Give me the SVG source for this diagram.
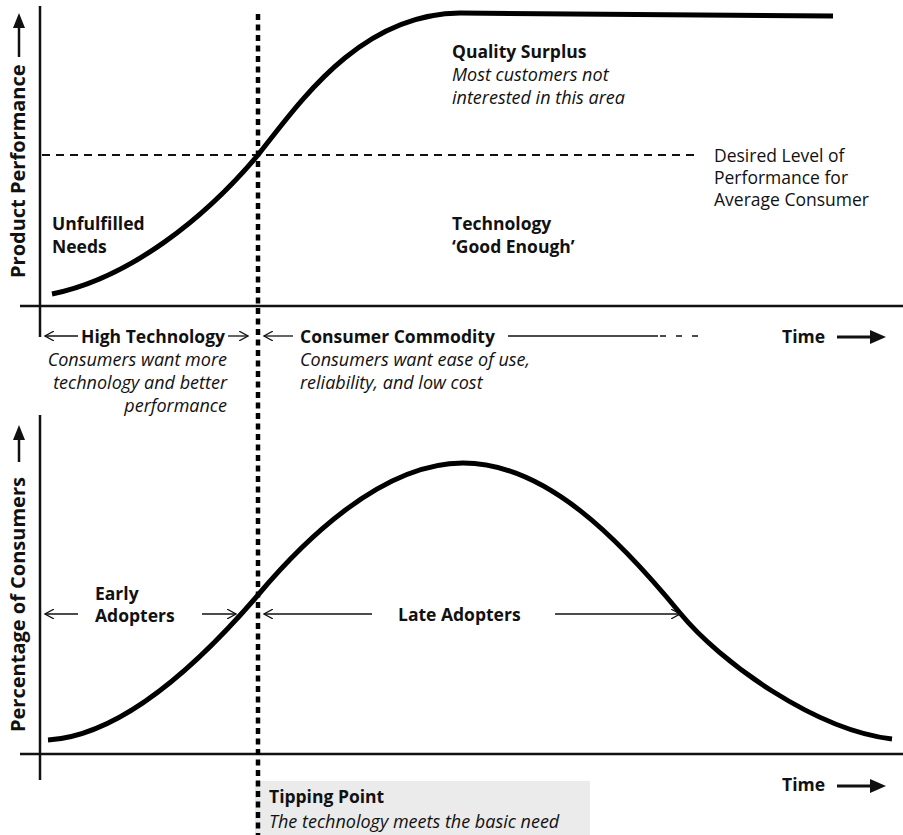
<svg xmlns="http://www.w3.org/2000/svg" width="903" height="835" viewBox="0 0 903 835">
<style>
text{font-family:"Open Sans","Liberation Sans",sans-serif;fill:#111;}
.b{font-weight:700;font-size:17.5px;}
.r{font-size:17.5px;}
.i{font-style:italic;font-size:18px;}
.ax{font-weight:700;font-size:20px;}
.axis{stroke:#111;stroke-width:2.5;fill:none;}
.curve{stroke:#000;stroke-width:5;fill:none;stroke-linecap:butt;}
.thin{stroke:#111;stroke-width:1.3;fill:none;}
</style>
<defs>
<marker id="open" viewBox="0 0 10 10" refX="9" refY="5" markerWidth="10" markerHeight="10" markerUnits="userSpaceOnUse" orient="auto-start-reverse">
<path d="M0,0 L9,5 L0,10" fill="none" stroke="#111" stroke-width="1.2"/>
</marker>
</defs>
<g id="tipping-box"><rect x="255" y="781" width="335" height="54" fill="#ebebeb"/></g>
<g id="axes">
<line class="axis" x1="40" y1="6" x2="40" y2="337"/>
<line class="axis" x1="20" y1="306" x2="903" y2="306"/>
<line class="axis" x1="40" y1="415" x2="40" y2="780"/>
<line class="axis" x1="20" y1="754" x2="903" y2="754"/>
</g>
<g id="axis-labels">
<text class="ax" transform="translate(25,278) rotate(-90)">Product Performance</text>
<line x1="19" y1="57" x2="19" y2="26" stroke="#111" stroke-width="2.5"/>
<path d="M19,13 L25,28 L13,28 Z" fill="#111"/>
<text class="ax" transform="translate(25,732) rotate(-90)">Percentage of Consumers</text>
<line x1="19" y1="462" x2="19" y2="438" stroke="#111" stroke-width="2.5"/>
<path d="M19,425 L25,440 L13,440 Z" fill="#111"/>
<text class="b" x="782" y="343">Time</text>
<line x1="837" y1="337" x2="872" y2="337" stroke="#111" stroke-width="3"/>
<path d="M886,337 L870,330 L870,344 Z" fill="#111"/>
<text class="b" x="782" y="791">Time</text>
<line x1="837" y1="786" x2="872" y2="786" stroke="#111" stroke-width="3"/>
<path d="M886,786 L870,779 L870,793 Z" fill="#111"/>
</g>
<g id="desired-level">
<line x1="42" y1="155" x2="700" y2="155" stroke="#111" stroke-width="2" stroke-dasharray="8 6"/>
<text class="r" x="714" y="162">Desired Level of</text>
<text class="r" x="714" y="184">Performance for</text>
<text class="r" x="714" y="206">Average Consumer</text>
</g>
<g id="connectors">
<path class="curve" d="M52,294 C130,278 205,218 258,155 C300,102 360,14 460,13 L833,16"/>
<path class="curve" d="M48,740 C130,735 215,645 258,595 C300,545 380,463 463,463 C546,463 620,540 680,613 C720,662 815,730 892,739"/>
<line x1="258" y1="14" x2="258" y2="835" stroke="#000" stroke-width="4.5" stroke-dasharray="6 4.5"/>
<line class="thin" x1="78" y1="336" x2="45" y2="336" marker-end="url(#open)"/>
<line class="thin" x1="228" y1="336" x2="248" y2="336" marker-end="url(#open)"/>
<line class="thin" x1="293" y1="336" x2="264" y2="336" marker-end="url(#open)"/>
<line class="thin" x1="508" y1="336" x2="658" y2="336"/>
<line class="thin" x1="660" y1="336" x2="698" y2="336" stroke-dasharray="6 10"/>
<line class="thin" x1="78" y1="614" x2="45" y2="614" marker-end="url(#open)"/>
<line class="thin" x1="202" y1="614" x2="236" y2="614" marker-end="url(#open)"/>
<line class="thin" x1="372" y1="614" x2="264" y2="614" marker-end="url(#open)"/>
<line class="thin" x1="555" y1="614" x2="680" y2="614" marker-end="url(#open)"/>
</g>
<g id="quality-surplus">
<text class="b" x="452" y="58">Quality Surplus</text>
<text class="i" x="452" y="81">Most customers not</text>
<text class="i" x="452" y="104">interested in this area</text>
</g>
<g id="unfulfilled"><text class="b" x="52" y="230">Unfulfilled</text><text class="b" x="52" y="253">Needs</text></g>
<g id="good-enough"><text class="b" x="452" y="230">Technology</text><text class="b" x="452" y="253">‘Good Enough’</text></g>
<g id="high-tech">
<text class="b" x="81" y="343">High Technology</text>
<text class="i" x="227" y="366" text-anchor="end">Consumers want more</text>
<text class="i" x="227" y="389" text-anchor="end">technology and better</text>
<text class="i" x="227" y="412" text-anchor="end">performance</text>
</g>
<g id="commodity">
<text class="b" x="300" y="343">Consumer Commodity</text>
<text class="i" x="300" y="366">Consumers want ease of use,</text>
<text class="i" x="300" y="389">reliability, and low cost</text>
</g>
<g id="early"><text class="b" x="95" y="600">Early</text><text class="b" x="95" y="622">Adopters</text></g>
<g id="late"><text class="b" x="398" y="621">Late Adopters</text></g>
<g id="tipping">
<text class="b" x="269" y="803">Tipping Point</text>
<text class="i" x="269" y="828">The technology meets the basic need</text>
</g>
</svg>
